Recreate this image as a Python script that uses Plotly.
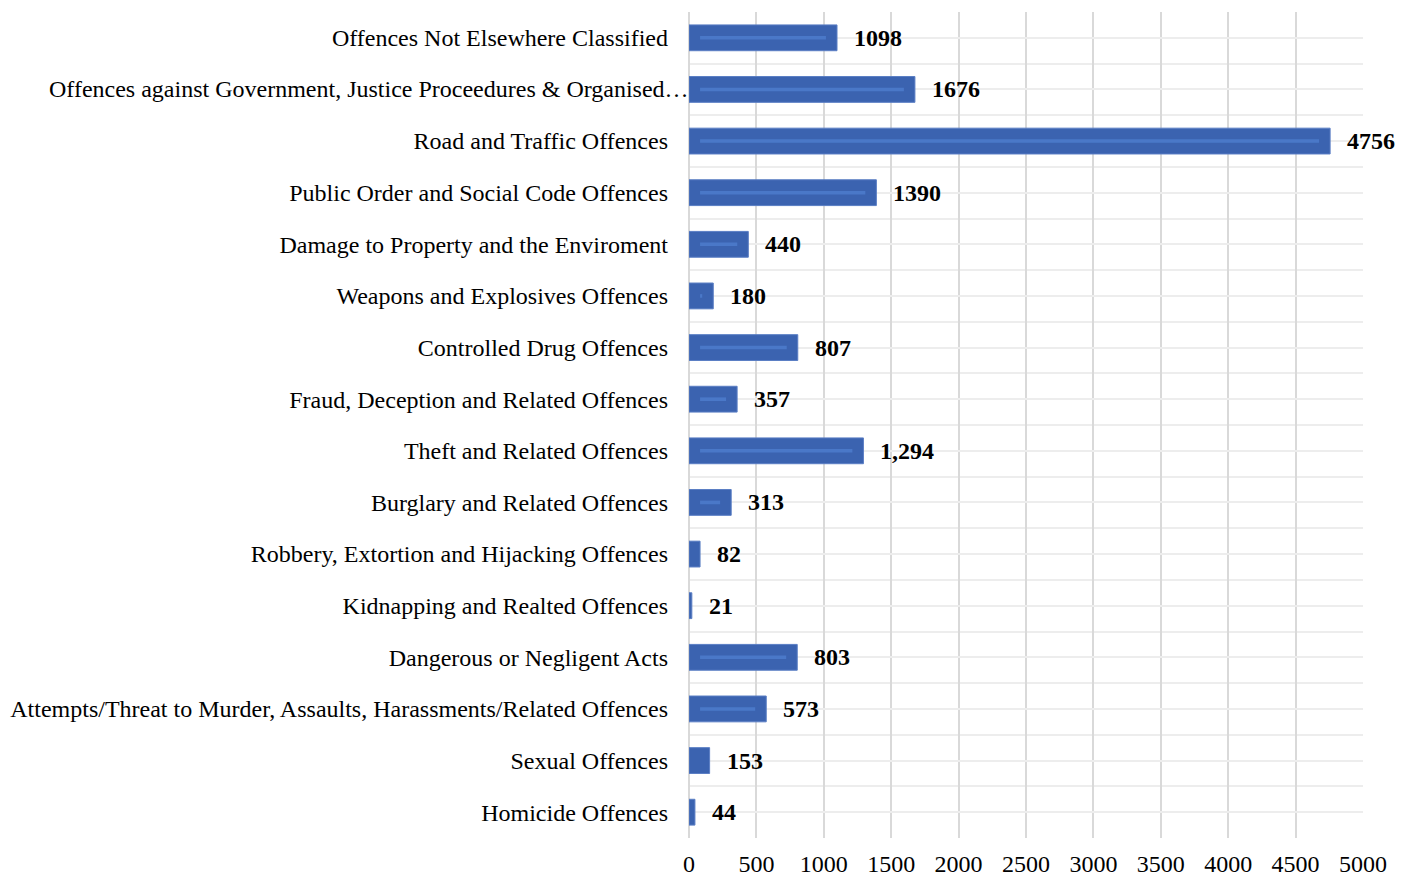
import plotly.graph_objects as go

# Offence categories, listed bottom to top
categories = [
    "Homicide Offences",
    "Sexual Offences",
    "Attempts/Threat to Murder, Assaults, Harassments/Related Offences",
    "Dangerous or Negligent Acts",
    "Kidnapping and Realted Offences",
    "Robbery, Extortion and Hijacking Offences",
    "Burglary and Related Offences",
    "Theft and Related Offences",
    "Fraud, Deception and Related Offences",
    "Controlled Drug Offences",
    "Weapons and Explosives Offences",
    "Damage to Property and the Enviroment",
    "Public Order and Social Code Offences",
    "Road and Traffic Offences",
    "Offences against Government, Justice Proceedures & Organised…",
    "Offences Not Elsewhere Classified",
]
counts = [44, 153, 573, 803, 21, 82, 313, 1294, 357, 807, 180, 440, 1390, 4756, 1676, 1098]
value_labels = ["44", "153", "573", "803", "21", "82", "313", "1,294", "357", "807",
                "180", "440", "1390", "4756", "1676", "1098"]
x_ticks = [0, 500, 1000, 1500, 2000, 2500, 3000, 3500, 4000, 4500, 5000]

FONT = "Liberation Serif"
BAR = "#3B63B0"
HIGHLIGHT = "#4A78C8"
positions = list(range(len(categories)))

# inner highlight stripe inset from both bar ends
inset = 82
stripe_len = [max(v - 2 * inset, 0) for v in counts]

fig = go.Figure()
fig.add_trace(go.Bar(
    x=counts, y=positions, orientation="h", width=0.5,
    marker=dict(color=BAR, line=dict(color="#5A7EC4", width=1)),
    hoverinfo="x+y", showlegend=False,
))
fig.add_trace(go.Bar(
    x=stripe_len, y=positions, base=[inset] * len(counts), orientation="h", width=0.07,
    marker=dict(color=HIGHLIGHT, line=dict(width=0)),
    hoverinfo="skip", showlegend=False,
))

# value labels to the right of each bar
for p, v, t in zip(positions, counts, value_labels):
    fig.add_annotation(
        x=v, y=p, text="<b>" + t + "</b>", showarrow=False, xanchor="left", yanchor="middle",
        xshift=15, font=dict(family=FONT, size=24, color="#000000"),
    )

# the long truncated label runs right up to the axis
long_idx = 14
ticktext = [c if i != long_idx else "" for i, c in enumerate(categories)]
fig.add_annotation(
    x=0, xref="paper", y=long_idx, yref="y", text=categories[long_idx], showarrow=False,
    xanchor="right", yanchor="middle", xshift=2,
    font=dict(family=FONT, size=24, color="#000000"),
)

fig.update_layout(
    width=1408, height=876,
    margin=dict(l=689, r=45, t=12, b=38, autoexpand=False),
    paper_bgcolor="white", plot_bgcolor="white",
    barmode="overlay",
    font=dict(family=FONT, size=24, color="#000000"),
    xaxis=dict(
        range=[0, 5000], tickmode="array", tickvals=x_ticks, automargin=False,
        showgrid=True, gridcolor="#D9D9D9", gridwidth=2,
        zeroline=True, zerolinecolor="#D9D9D9", zerolinewidth=2,
        showline=False, ticks="", ticklabelstandoff=9,
        tickfont=dict(family=FONT, size=24, color="#000000"),
    ),
    yaxis=dict(
        range=[-0.5, 15.5], tickmode="array", tickvals=positions, ticktext=ticktext,
        automargin=False,
        showgrid=True, gridcolor="#EDEDED", gridwidth=2,
        minor=dict(tickmode="array", tickvals=[p - 0.5 for p in positions] + [15.5],
                   showgrid=True, gridcolor="#EDEDED", gridwidth=2),
        zeroline=False, showline=False, ticks="", ticklabelstandoff=20,
        tickfont=dict(family=FONT, size=24, color="#000000"),
    ),
)

fig.write_html("out.html")
